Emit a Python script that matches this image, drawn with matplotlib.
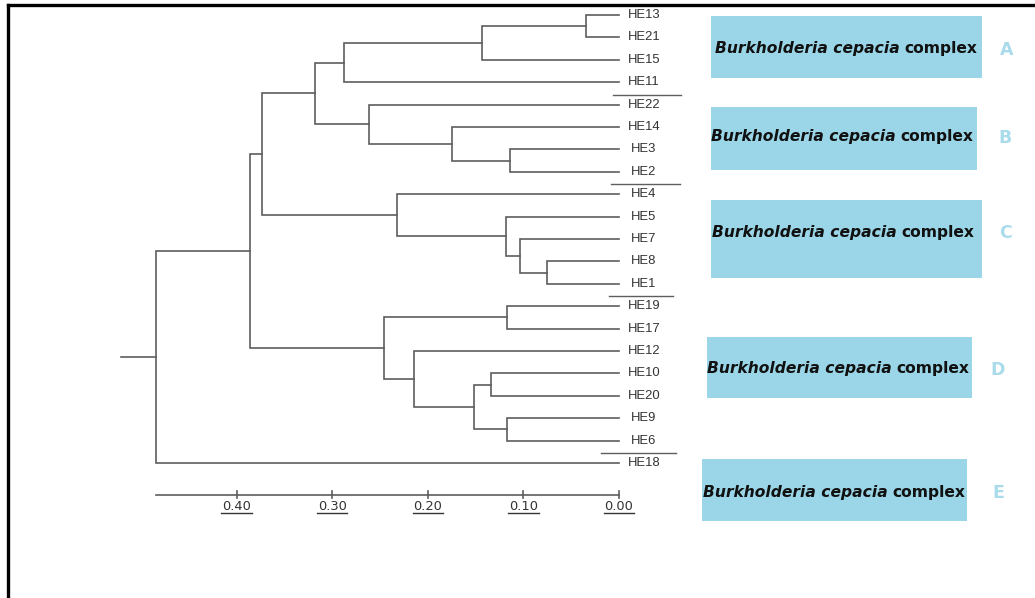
import matplotlib
matplotlib.use('Agg')
import matplotlib.pyplot as plt
from matplotlib.patches import Rectangle
from matplotlib.lines import Line2D

# ---- data ----
leaves = ['HE13', 'HE21', 'HE15', 'HE11', 'HE22', 'HE14', 'HE3', 'HE2', 'HE4',
          'HE5', 'HE7', 'HE8', 'HE1', 'HE19', 'HE17', 'HE12', 'HE10', 'HE20',
          'HE9', 'HE6', 'HE18']

# merges in order; 'nK' refers to the K-th merge
merge_left = ['HE13', 'n0', 'n1', 'HE3', 'HE14', 'HE22', 'n2', 'HE8', 'HE7', 'HE5',
              'HE4', 'n6', 'HE19', 'HE10', 'HE9', 'n13', 'HE12', 'n12', 'n11', 'n18']
merge_right = ['HE21', 'HE15', 'HE11', 'HE2', 'n3', 'n4', 'n5', 'HE1', 'n7', 'n8',
               'n9', 'n10', 'HE17', 'HE20', 'HE6', 'n14', 'n15', 'n16', 'n17', 'HE18']
merge_height = [0.035, 0.143, 0.288, 0.114, 0.175, 0.261, 0.318, 0.075, 0.104, 0.118,
                0.232, 0.373, 0.117, 0.134, 0.117, 0.152, 0.214, 0.246, 0.386, 0.484]
root_stub = 0.521

scale_ticks = [0.40, 0.30, 0.20, 0.10, 0.00]
scale_labels = ['0.40', '0.30', '0.20', '0.10', '0.00']

# short lines separating the groups: (leaf above, right end, left end)
sep_after = ['HE11', 'HE2', 'HE1', 'HE6']
sep_from = [0.006, 0.008, 0.010, 0.019]
sep_to = [-0.065, -0.064, -0.057, -0.060]

group_letters = ['A', 'B', 'C', 'D', 'E']
group_genus = 'Burkholderia cepacia'
group_word = 'complex'

# colours
line_col = '#5e5e5e'
text_col = '#333333'
box_col = '#9ad6e7'
letter_col = '#a9dbeb'

W, H = 1035, 598
fig = plt.figure(figsize=(W / 100, H / 100), dpi=100)
fig.patch.set_facecolor('white')

# tree axes: x = distance (reversed), y = leaf index
x_left_px, x_right_px = 93.2, 705.0
ax = fig.add_axes([x_left_px / W, 0, (x_right_px - x_left_px) / W, 1])
px_per_unit = 956.0
ax.set_xlim((619 - x_left_px) / px_per_unit, (619 - x_right_px) / px_per_unit)
ax.set_ylim((H - 15) / 22.4, -15 / 22.4)
ax.axis('off')

# ---- dendrogram ----
pos = {name: (0.0, float(i)) for i, name in enumerate(leaves)}
for k, (l, r, h) in enumerate(zip(merge_left, merge_right, merge_height)):
    xl, yl = pos[l]
    xr, yr = pos[r]
    ax.plot([xl, h, h, xr], [yl, yl, yr, yr], color=line_col, lw=1.2,
            solid_joinstyle='miter')
    pos['n%d' % k] = (h, (yl + yr) / 2)

root_h, root_y = pos['n%d' % (len(merge_height) - 1)]
ax.plot([root_h, root_stub], [root_y, root_y], color=line_col, lw=1.2)

for i, name in enumerate(leaves):
    ax.text(-0.026, i, name, ha='center', va='center', fontsize=9.4,
            family='Liberation Sans', color=text_col)

for name, x0, x1 in zip(sep_after, sep_from, sep_to):
    yy = leaves.index(name) + 0.55
    ax.plot([x0, x1], [yy, yy], color=line_col, lw=1.0, clip_on=False)

# ---- scale bar ----
y_axis = 21.43
ax.plot([root_h, 0.0], [y_axis, y_axis], color=line_col, lw=1.2)
for t, lab in zip(scale_ticks, scale_labels):
    ax.plot([t, t], [y_axis - 0.16, y_axis + 0.14], color=line_col, lw=1.2)
    ax.text(t, y_axis + 0.5, lab, ha='center', va='center', fontsize=9.4,
            family='DejaVu Sans', color=text_col)
    ax.plot([t - 0.016, t + 0.016], [y_axis + 0.8, y_axis + 0.8],
            color=text_col, lw=1.0)

# ---- coloured group boxes (pixel layout) ----
ov = fig.add_axes([0, 0, 1, 1], zorder=-1)
ov.set_xlim(0, W)
ov.set_ylim(H, 0)
ov.axis('off')

box_x0 = [711, 711, 711, 707, 702]
box_x1 = [982, 977, 982, 972, 967]
box_y0 = [16, 107, 200, 337, 459]
box_y1 = [78, 170, 278, 398, 521]
txt_x = [715, 711, 712, 707, 703]
txt_y = [49, 137, 232, 369, 492]
let_x = [1007, 1005, 1005, 998, 998]

for k, letter in enumerate(group_letters):
    ov.add_patch(Rectangle((box_x0[k], box_y0[k]), box_x1[k] - box_x0[k],
                           box_y1[k] - box_y0[k], facecolor=box_col,
                           edgecolor='none'))
    t1 = ov.text(txt_x[k], txt_y[k], group_genus, ha='left', va='center',
                 fontsize=11.2, fontweight='bold', fontstyle='italic',
                 family='DejaVu Sans', color='#111111')
    ov.annotate(group_word, xy=(1, 0), xycoords=t1, xytext=(3, 0),
                textcoords='offset points', ha='left', va='bottom',
                fontsize=11.2, fontweight='bold', family='DejaVu Sans',
                color='#111111')
    ov.text(let_x[k], txt_y[k] + 1, letter, ha='center', va='center',
            fontsize=12.5, fontweight='bold', family='DejaVu Sans',
            color=letter_col)

# frame lines at top and left
fig.add_artist(Line2D([8 / W, 1], [1 - 5 / H, 1 - 5 / H], color='black',
                      lw=2.4, transform=fig.transFigure))
fig.add_artist(Line2D([8 / W, 8 / W], [0, 1 - 5 / H], color='black',
                      lw=2.4, transform=fig.transFigure))

plt.savefig('out.png', dpi=100, facecolor='white')
plt.close()
